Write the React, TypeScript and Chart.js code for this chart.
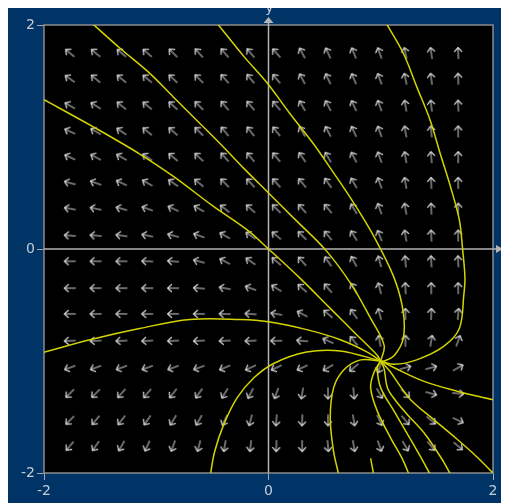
import React, { useEffect, useRef } from "react";
import { Chart, registerables } from "chart.js";

Chart.register(...registerables);

// ---- axis ticks ----
const xTickValues = [-2, 0, 2];
const yTickValues = [-2, 0, 2];

// ---- direction field grid (data coords) ----
const arrowCols = [-1.77, -1.54, -1.31, -1.08, -0.85, -0.62, -0.39, -0.16, 0.07, 0.3, 0.53, 0.76, 0.99, 1.22, 1.45, 1.69];
const arrowRows = [1.75, 1.52, 1.28, 1.05, 0.82, 0.59, 0.36, 0.12, -0.11, -0.35, -0.58, -0.82, -1.06, -1.29, -1.53, -1.76];
// arrow directions in degrees (counter-clockwise from +x), one row per arrowRows entry
const arrowAngles = [
  [140, 140, 140, 140, 135, 132, 130, 130, 132, 118, 115, 113, 110, 102, 98, 92],
  [145, 140, 140, 140, 137, 135, 132, 130, 130, 118, 115, 113, 110, 102, 98, 92],
  [150, 148, 140, 140, 138, 135, 130, 130, 130, 120, 118, 115, 110, 100, 97, 92],
  [155, 150, 145, 140, 138, 135, 130, 128, 128, 120, 118, 115, 110, 100, 95, 90],
  [155, 152, 150, 145, 140, 137, 132, 130, 130, 125, 120, 117, 110, 100, 95, 90],
  [165, 160, 155, 150, 145, 140, 135, 133, 132, 130, 125, 120, 110, 100, 92, 90],
  [170, 168, 165, 160, 155, 150, 142, 138, 135, 132, 130, 120, 110, 100, 92, 90],
  [175, 175, 172, 168, 165, 160, 150, 145, 140, 135, 130, 122, 112, 100, 92, 90],
  [180, 180, 180, 178, 175, 165, 152, 145, 140, 132, 125, 118, 105, 95, 93, 92],
  [180, 180, 180, 180, 180, 175, 170, 160, 148, 138, 130, 120, 105, 92, 90, 90],
  [180, 180, 180, 180, 180, 180, 178, 175, 170, 152, 140, 125, 105, 90, 88, 85],
  [183, 183, 183, 183, 183, 183, 183, 183, 180, 175, 155, 130, 100, 90, 80, 70],
  [200, 200, 200, 200, 200, 200, 203, 205, 205, 205, 210, 220, 250, 15, 15, 30],
  [225, 225, 228, 230, 232, 235, 238, 242, 250, 260, 270, 275, 300, 315, 345, 355],
  [225, 230, 232, 235, 238, 240, 245, 255, 265, 268, 270, 280, 295, 310, 320, 335],
  [230, 235, 240, 245, 250, 255, 260, 263, 268, 270, 275, 280, 290, 300, 310, 320],
];

// ---- solution curves, [x, y] pairs ----
const curve1 = [[-1.6, 2.04], [-1.32, 1.79], [-1.06, 1.57], [-0.85, 1.36], [-0.64, 1.15], [-0.43, 0.94], [-0.22, 0.72], [0.0, 0.5], [0.22, 0.28], [0.51, -0.01], [0.74, -0.32], [0.91, -0.62], [1.03, -0.86], [1.0, -1.0]];
const curve2 = [[-2.03, 1.35], [-1.56, 1.09], [-1.15, 0.85], [-0.85, 0.65], [-0.49, 0.38], [-0.19, 0.17], [0.0, 0.0], [0.28, -0.26], [0.55, -0.53], [0.79, -0.77], [0.97, -0.95], [1.0, -1.0]];
const curve3 = [[-0.47, 2.03], [-0.22, 1.72], [-0.01, 1.48], [0.19, 1.21], [0.4, 0.94], [0.58, 0.68], [0.76, 0.41], [0.94, 0.11], [1.12, -0.26], [1.2, -0.56], [1.2, -0.8], [1.12, -0.95], [1.03, -1.0], [1.0, -1.0]];
const curve4 = [[1.04, 2.03], [1.2, 1.75], [1.32, 1.45], [1.44, 1.15], [1.53, 0.85], [1.62, 0.56], [1.7, 0.26], [1.73, -0.01], [1.75, -0.26], [1.74, -0.41], [1.7, -0.71], [1.56, -0.87], [1.32, -0.99], [1.12, -1.03], [1.0, -1.0]];
const curve5 = [[-2.03, -0.93], [-1.59, -0.81], [-1.15, -0.71], [-0.7, -0.63], [-0.25, -0.63], [0.0, -0.65], [0.34, -0.72], [0.64, -0.81], [0.88, -0.92], [1.0, -1.0]];
const curve6 = [[1.0, -1.0], [0.64, -0.91], [0.34, -0.92], [0.05, -1.02], [-0.13, -1.15], [-0.28, -1.33], [-0.4, -1.57], [-0.48, -1.81], [-0.52, -2.03]];
const curve7 = [[1.0, -1.0], [0.82, -0.99], [0.67, -1.08], [0.58, -1.24], [0.55, -1.51], [0.58, -1.81], [0.63, -2.03]];
const curve8 = [[1.0, -1.0], [0.94, -1.1], [0.91, -1.24], [0.97, -1.45], [1.09, -1.69], [1.19, -1.87], [1.26, -2.03]];
const curve9 = [[1.0, -1.0], [0.97, -1.06], [1.0, -1.24], [1.12, -1.45], [1.26, -1.69], [1.38, -1.9], [1.45, -2.03]];
const curve10 = [[1.0, -1.0], [1.03, -1.07], [1.06, -1.24], [1.13, -1.35], [1.23, -1.47], [1.4, -1.66], [1.56, -1.9], [1.63, -2.03]];
const curve11 = [[1.0, -1.0], [1.08, -1.09], [1.17, -1.22], [1.27, -1.35], [1.48, -1.53], [1.67, -1.69], [1.85, -1.85], [2.02, -2.02]];
const curve12 = [[1.0, -1.0], [1.12, -1.06], [1.38, -1.18], [1.68, -1.27], [2.02, -1.35]];
const curve13 = [[0.91, -1.87], [0.94, -2.03]];
const curves = [curve1, curve2, curve3, curve4, curve5, curve6, curve7, curve8, curve9, curve10, curve11, curve12, curve13];

const BLUE = "#003366";
const YELLOW = "#d4d400";
const AXIS_GREY = "#b4b4b4";
const LABEL = "#c4ccd4";

export default function App() {
  const ref = useRef<HTMLCanvasElement>(null);

  useEffect(() => {
    const canvas = ref.current;
    if (!canvas) return;

    const img = document.createElement("canvas");
    img.width = 16;
    img.height = 16;
    const g = img.getContext("2d")!;
    g.strokeStyle = "#d2d2d2";
    g.lineWidth = 1.2;
    g.lineCap = "round";
    g.beginPath();
    g.moveTo(2.5, 8);
    g.lineTo(13.5, 8);
    g.moveTo(13.5, 8);
    g.lineTo(9.5, 4.5);
    g.moveTo(13.5, 8);
    g.lineTo(9.5, 11.5);
    g.stroke();

    const arrowPoints: { x: number; y: number }[] = [];
    const rotations: number[] = [];
    arrowRows.forEach((y, r) =>
      arrowCols.forEach((x, c) => {
        arrowPoints.push({ x, y });
        rotations.push(-arrowAngles[r][c]);
      })
    );

    const decor = {
      id: "decor",
      beforeDraw(chart: any) {
        const { ctx, chartArea: a, width, height } = chart;
        ctx.save();
        ctx.fillStyle = BLUE;
        ctx.fillRect(0, 0, width, height);
        ctx.fillStyle = "#000";
        ctx.fillRect(a.left, a.top, a.right - a.left, a.bottom - a.top);
        ctx.restore();
      },
      beforeDatasetsDraw(chart: any) {
        const { ctx, chartArea: a, scales } = chart;
        const x0 = scales.x.getPixelForValue(0);
        const y0 = scales.y.getPixelForValue(0);
        ctx.save();
        // frame
        ctx.strokeStyle = "#8c8c8c";
        ctx.lineWidth = 1.5;
        ctx.strokeRect(a.left, a.top, a.right - a.left, a.bottom - a.top);
        // axes
        ctx.strokeStyle = AXIS_GREY;
        ctx.lineWidth = 1.5;
        ctx.beginPath();
        ctx.moveTo(x0, a.bottom);
        ctx.lineTo(x0, a.top - 3);
        ctx.moveTo(a.left, y0);
        ctx.lineTo(a.right + 3, y0);
        ctx.stroke();
        ctx.fillStyle = AXIS_GREY;
        ctx.beginPath();
        ctx.moveTo(x0, a.top - 8);
        ctx.lineTo(x0 - 5, a.top - 2);
        ctx.lineTo(x0 + 5, a.top - 2);
        ctx.closePath();
        ctx.fill();
        ctx.beginPath();
        ctx.moveTo(a.right + 10, y0);
        ctx.lineTo(a.right + 3, y0 - 4);
        ctx.lineTo(a.right + 3, y0 + 4);
        ctx.closePath();
        ctx.fill();
        // axis names
        ctx.fillStyle = LABEL;
        ctx.font = "14px 'DejaVu Sans'";
        ctx.textAlign = "center";
        ctx.textBaseline = "alphabetic";
        ctx.fillText("y", x0 + 1, 5);
        ctx.textAlign = "left";
        ctx.fillText("x", a.right + 12, y0 + 5);
        ctx.restore();
      },
    };

    const datasets: any[] = curves.map((cv) => ({
      data: cv.map(([x, y]) => ({ x, y })),
      showLine: true,
      borderColor: YELLOW,
      borderWidth: 1.5,
      pointRadius: 0,
      tension: 0.35,
      fill: false,
    }));
    datasets.push({
      data: arrowPoints,
      showLine: false,
      pointStyle: img,
      pointRadius: 3,
      pointRotation: rotations,
      clip: false,
    });

    const tickFont = { family: "'DejaVu Sans', sans-serif", size: 14 };

    const chart = new Chart(canvas, {
      type: "scatter",
      data: { datasets },
      plugins: [decor],
      options: {
        animation: false,
        responsive: false,
        events: [],
        layout: { padding: { top: 18, right: 16, left: 0, bottom: 0 } },
        plugins: { legend: { display: false }, tooltip: { enabled: false } },
        scales: {
          x: {
            type: "linear",
            min: -2,
            max: 2,
            afterBuildTicks: (axis: any) => {
              axis.ticks = xTickValues.map((v) => ({ value: v }));
            },
            afterFit: (scale: any) => {
              scale.height = 30;
            },
            ticks: { color: LABEL, font: tickFont, padding: 3, maxRotation: 0 },
            grid: { drawOnChartArea: false, drawTicks: true, tickLength: 7, color: "#a8a8a8" },
            border: { display: false },
          },
          y: {
            type: "linear",
            min: -2,
            max: 2,
            afterBuildTicks: (axis: any) => {
              axis.ticks = yTickValues.map((v) => ({ value: v }));
            },
            afterFit: (scale: any) => {
              scale.width = 36;
            },
            ticks: { color: LABEL, font: tickFont, padding: 2 },
            grid: { drawOnChartArea: false, drawTicks: true, tickLength: 7, color: "#a8a8a8" },
            border: { display: false },
          },
        },
      },
    });

    return () => chart.destroy();
  }, []);

  return (
    <div style={{ marginTop: -1 }}>
      <canvas ref={ref} width={501} height={496} style={{ display: "block" }} />
    </div>
  );
}
